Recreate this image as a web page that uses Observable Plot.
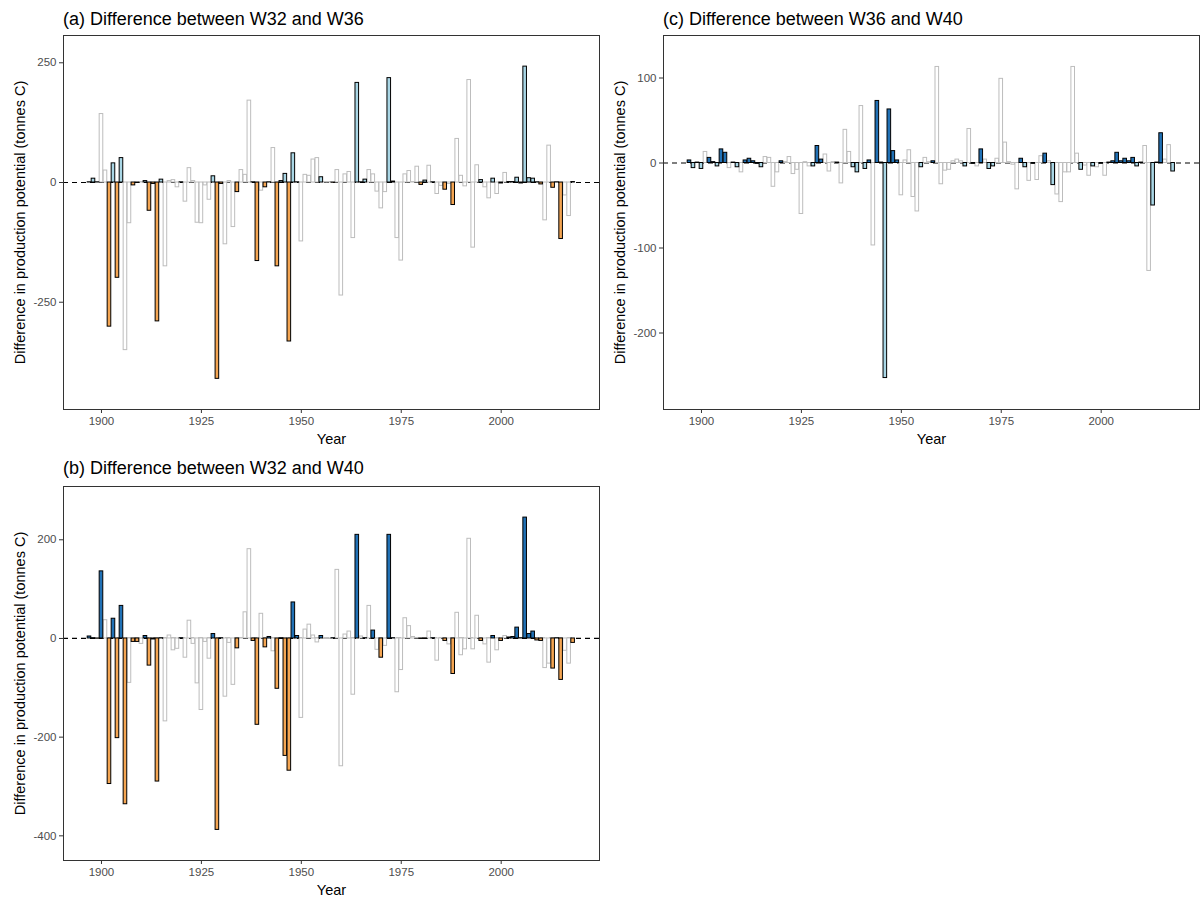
<!DOCTYPE html>
<html>
<head>
<meta charset="utf-8">
<script src="https://cdn.jsdelivr.net/npm/d3@7"></script>
<script src="https://cdn.jsdelivr.net/npm/@observablehq/plot@0.6"></script>
<style>
  html, body { margin: 0; padding: 0; background: #fff; }
  body { font-family: "Liberation Sans", Arial, sans-serif; }
  #root { position: relative; width: 1201px; height: 897px; overflow: hidden; }
  .panel { position: absolute; }
  .title { position: absolute; font-size: 18px; line-height: 1; color: #000; white-space: nowrap; }
  svg [aria-label="x-axis tick label"], svg [aria-label="y-axis tick label"] { fill: #4d4d4d; font-size: 11.5px; }
  svg [aria-label="x-axis label"], svg [aria-label="y-axis label"] { fill: #000; font-size: 14.5px; }
</style>
</head>
<body>
<div id="root"></div>
<script>
// ---------- data ----------
const years = [1897,1898,1899,1900,1901,1902,1903,1904,1905,1906,1907,1908,1909,1910,1911,1912,1913,1914,1915,1916,
  1917,1918,1919,1920,1921,1922,1923,1924,1925,1926,1927,1928,1929,1930,1931,1932,1933,1934,1935,1936,
  1937,1938,1939,1940,1941,1942,1943,1944,1945,1946,1947,1948,1949,1950,1951,1952,1953,1954,1955,1956,
  1957,1958,1959,1960,1961,1962,1963,1964,1965,1966,1967,1968,1969,1970,1971,1972,1973,1974,1975,1976,
  1977,1978,1979,1980,1981,1982,1983,1984,1985,1986,1987,1988,1989,1990,1991,1992,1993,1994,1995,1996,
  1997,1998,1999,2000,2001,2002,2003,2004,2005,2006,2007,2008,2009,2010,2011,2012,2013,2014,2015,2016,
  2017,2018];

// (a) W32 vs W36
const valuesA = [0.5,8,0.5,143,25,-301,40,-199,51,-350,-85,-6,-1,1,3,-59,-3,-290,6,-175,
  3,5,-10,0.5,-40,30,3,-84,-85,-6,-36,13,-410,-3,-129,3,-93,-20,26,16,
  171,0.5,-164,-17,-10,0.5,72,-175,3,18,-332,61,0.5,-123,16,14,48,51,11,1,
  1,-0.5,26,-236,17,22,-116,208,0.5,6,26,17,-19,-54,-20,218,2,-116,-163,17,
  24,1,33,-5,4,35,0.5,-24,-7,-15,-3,-47,91,14,-8,214,-136,36,5,-10,
  -33,8,-24,-2,20,1,1,10,-2,242,9,8,0.5,-4,-79,77,-11,0.5,-118,-27,
  -70,1];
const sigA = [1,1,1,0,0,1,1,1,1,0,0,1,1,0,1,1,1,1,1,0,
  0,0,0,1,0,0,0,0,0,0,0,1,1,1,0,0,0,1,0,0,
  0,1,1,0,1,1,0,1,1,1,1,1,1,0,0,0,0,0,1,0,
  0,1,0,0,0,0,0,1,1,1,0,0,0,0,0,1,1,0,0,0,
  0,0,0,1,1,0,1,0,0,1,0,1,0,0,0,0,0,0,1,0,
  0,1,0,1,0,1,1,1,1,1,1,1,1,1,0,0,1,1,1,0,
  0,1];

// (b) W32 vs W40
const valuesB = [4,0.5,-0.5,136,37,-295,40,-202,66,-336,-90,-7,-7,-11,5,-55,-2,-290,0.5,-168,
  6,-24,-21,0.5,-39,36,-11,-91,-145,-7,-41,9,-388,0.5,-118,-9,-94,-20,1,53,
  181,-5,-175,50,-18,3,-26,-102,0.5,-238,-268,73,5,-161,18,28,6,-8,5,-1,
  -1,0.5,139,-259,8,14,-114,210,4,0.5,66,16,-23,-39,-15,210,0.5,-109,-64,41,
  25,3,1,-1,-1,14,0.5,-45,1,-5,-12,-72,52,-34,-22,202,-22,46,-5,-12,
  -49,5,-24,-5,5,2,3,22,0.5,245,9,14,-4,-5,-60,-51,-61,0.5,-84,-25,
  -51,-9];
const sigB = [1,1,1,1,0,1,1,1,1,1,0,1,1,0,1,1,1,1,1,0,
  0,0,0,1,0,0,0,0,0,0,0,1,1,1,0,0,0,1,0,0,
  0,1,1,0,1,1,0,1,1,1,1,1,1,0,0,0,0,0,1,0,
  0,1,0,0,0,0,0,1,0,1,0,1,0,1,0,1,1,0,0,0,
  0,0,0,1,1,0,1,0,0,1,0,1,0,0,0,0,0,0,1,0,
  0,1,0,1,0,1,1,1,1,1,1,1,1,1,0,0,1,1,1,0,
  0,1];

// (c) W36 vs W40
const valuesC = [3,-6,0.5,-7,13,6,1,-4,16,12,-6,0.5,-5,-11,3,5,2,-1,-5,7,
  6,-28,-11,2,1,7,-13,-8,-60,1,-4,-4,20,4,10,-10,1,0.5,-24,39,
  13,-5,-11,67,-7,3,-97,73,0.5,-253,63,14,3,-38,3,15,-40,-57,-5,6,
  1,2,113,-25,-9,-8,2,4,2,-4,40,-1,-4,16,4,-7,-4,5,99,24,
  1,-2,-31,5,-5,-21,-1,-20,8,11,2,-26,-37,-46,-11,-11,113,11,-8,-3,
  -15,-4,-5,-1,-15,0.5,2,12,2,5,2,6,-4,0.5,20,-127,-50,0.5,35,4,
  21,-10];
const sigC = [1,1,1,1,0,1,1,1,1,1,0,1,1,0,1,1,1,1,1,0,
  0,0,0,1,0,0,0,0,0,0,0,1,1,1,0,0,0,1,0,0,
  0,1,1,0,1,1,0,1,1,1,1,1,1,0,0,0,0,0,1,0,
  0,1,0,0,0,0,0,0,0,1,0,1,0,1,0,1,1,0,0,0,
  0,0,0,1,1,0,1,0,0,1,0,1,0,0,0,0,0,0,1,0,
  0,1,0,1,0,1,1,1,1,1,1,1,1,1,0,0,1,1,1,0,
  0,1];

const titles = ["(a) Difference between W32 and W36", "(b) Difference between W32 and W40", "(c) Difference between W36 and W40"];
const xTicks = [1900, 1925, 1950, 1975, 2000];
const yTicksA = [-250, 0, 250];
const yTicksB = [-400, -200, 0, 200];
const yTicksC = [-200, -100, 0, 100];
const yLabel = "Difference in production potential (tonnes C)";
const xLabel = "Year";

// colours
const orange = "#f4a552";
const lightBlue = "#a9d6e5";
const darkBlue = "#2171b5";
const greyLine = "#bdbdbd";

// ---------- drawing ----------
const root = document.getElementById("root");

function panel({values, sig, pos, neg, yDomain, yTicks, left, top, height, marginTop, marginBottom, title, titleTop}) {
  const data = years.map((year, i) => ({year, value: values[i], sig: sig[i]}));
  const half = 0.45;
  const chart = Plot.plot({
    width: 601,
    height,
    marginLeft: 63,
    marginRight: 2,
    marginTop,
    marginBottom,
    style: {fontFamily: '"Liberation Sans", Arial, sans-serif', background: "transparent", overflow: "visible"},
    x: {domain: [1890.5, 2024.6]},
    y: {domain: yDomain},
    marks: [
      Plot.ruleY([0], {stroke: "#000", strokeWidth: 1.2, strokeDasharray: "5,4"}),
      Plot.rectY(data, {filter: d => !d.sig, x1: d => d.year - half, x2: d => d.year + half, y: "value",
        fill: "#fff", stroke: greyLine, strokeWidth: 1}),
      Plot.rectY(data, {filter: d => d.sig && d.value >= 0, x1: d => d.year - half, x2: d => d.year + half, y: "value",
        fill: pos, stroke: "#000", strokeWidth: 1}),
      Plot.rectY(data, {filter: d => d.sig && d.value < 0, x1: d => d.year - half, x2: d => d.year + half, y: "value",
        fill: neg, stroke: "#000", strokeWidth: 1}),
      Plot.axisX({ticks: xTicks, tickSize: 4, tickPadding: 3, stroke: "#333", tickFormat: d => String(d),
        label: xLabel, labelAnchor: "center", labelOffset: 34, labelArrow: "none"}),
      Plot.axisY({ticks: yTicks, tickSize: 4, tickPadding: 3, stroke: "#333", tickFormat: d => String(d),
        label: yLabel, labelAnchor: "center", labelOffset: 49, labelArrow: "none"}),
      Plot.frame({stroke: "#333", strokeWidth: 1})
    ]
  });
  const wrap = document.createElement("div");
  wrap.className = "panel";
  wrap.style.left = left + "px";
  wrap.style.top = top + "px";
  wrap.appendChild(chart);
  root.appendChild(wrap);

  const t = document.createElement("div");
  t.className = "title";
  t.textContent = title;
  t.style.left = (left + 63) + "px";
  t.style.top = titleTop + "px";
  root.appendChild(t);
}

panel({values: valuesA, sig: sigA, pos: lightBlue, neg: orange, yDomain: [-474, 307], yTicks: yTicksA,
  left: 0, top: 30, height: 420, marginTop: 5, marginBottom: 41, title: titles[0], titleTop: 9.6});
panel({values: valuesB, sig: sigB, pos: darkBlue, neg: orange, yDomain: [-450, 308], yTicks: yTicksB,
  left: 0, top: 480, height: 417, marginTop: 6, marginBottom: 37, title: titles[1], titleTop: 458.9});
panel({values: valuesC, sig: sigC, pos: darkBlue, neg: lightBlue, yDomain: [-290, 150], yTicks: yTicksC,
  left: 600, top: 30, height: 420, marginTop: 5, marginBottom: 41, title: titles[2], titleTop: 9.6});
</script>
</body>
</html>
